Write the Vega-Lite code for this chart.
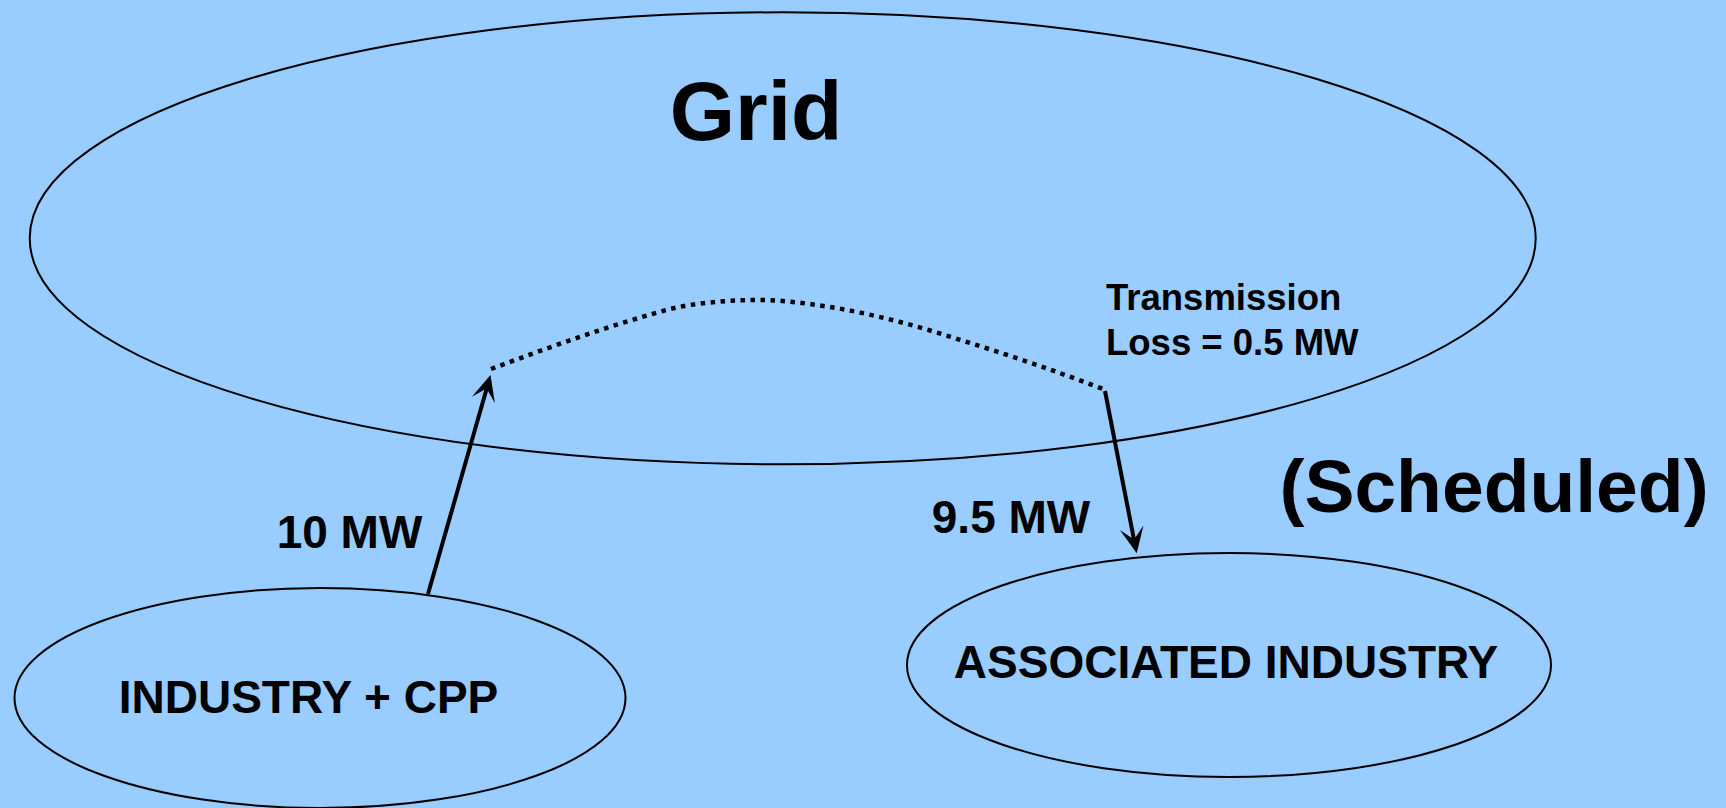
{
  "$schema": "https://vega.github.io/schema/vega-lite/v6.json",
  "width": 1726,
  "height": 808,
  "autosize": {"type": "none"},
  "padding": 0,
  "background": "#99CCFF",
  "config": {"view": {"stroke": null}},
  "datasets": {
    "ellipses": [
      {"name": "Grid", "x": 782.7, "y": 238.3},
      {"name": "INDUSTRY + CPP", "x": 320, "y": 698},
      {"name": "ASSOCIATED INDUSTRY", "x": 1229, "y": 665}
    ],
    "loss": [
      {"i": 0, "x": 491, "y": 369},
      {"i": 1, "x": 574, "y": 339},
      {"i": 2, "x": 632, "y": 320},
      {"i": 3, "x": 690, "y": 305},
      {"i": 4, "x": 758, "y": 300},
      {"i": 5, "x": 830, "y": 307},
      {"i": 6, "x": 900, "y": 322},
      {"i": 7, "x": 970, "y": 343},
      {"i": 8, "x": 1040, "y": 366},
      {"i": 9, "x": 1103, "y": 389}
    ],
    "arrows": [
      {"flow": "10 MW", "x": 428, "y": 594, "xe": 486.7, "ye": 388.5, "xt": 490.5, "yt": 375, "angle": 15.9},
      {"flow": "9.5 MW", "x": 1105, "y": 391, "xe": 1134, "ye": 539.6, "xt": 1136.7, "yt": 553.3, "angle": 168.9}
    ],
    "labels": [
      {"role": "big", "text": "Grid", "x": 756, "y": 140},
      {"role": "big2", "text": "(Scheduled)", "x": 1494, "y": 512},
      {"role": "mid", "text": "10 MW", "x": 349.5, "y": 548},
      {"role": "mid", "text": "9.5 MW", "x": 1011, "y": 532.5},
      {"role": "mid", "text": "INDUSTRY + CPP", "x": 308.5, "y": 713},
      {"role": "mid", "text": "ASSOCIATED INDUSTRY", "x": 1226, "y": 678},
      {"role": "small", "text": "Transmission", "x": 1106, "y": 310},
      {"role": "small", "text": "Loss = 0.5 MW", "x": 1106, "y": 355}
    ]
  },
  "layer": [
    {
      "data": {"name": "ellipses"},
      "mark": {"type": "point", "filled": false, "stroke": "black", "strokeWidth": 2, "size": 4, "opacity": 1},
      "encoding": {
        "x": {"field": "x", "type": "quantitative", "scale": {"domain": [0, 1726], "nice": false, "zero": false}, "axis": null},
        "y": {"field": "y", "type": "quantitative", "scale": {"domain": [0, 808], "nice": false, "zero": false, "reverse": true}, "axis": null},
        "shape": {
          "field": "name",
          "type": "nominal",
          "legend": null,
          "scale": {
            "domain": ["Grid", "INDUSTRY + CPP", "ASSOCIATED INDUSTRY"],
            "range": [
              "M -753 0 C -753 -124.8 -415.9 -226 0 -226 C 415.9 -226 753 -124.8 753 0 C 753 124.8 415.9 226 0 226 C -415.9 226 -753 124.8 -753 0 Z",
              "M -305.5 0 C -305.5 -60.8 -168.7 -110 0 -110 C 168.7 -110 305.5 -60.8 305.5 0 C 305.5 60.8 168.7 110 0 110 C -168.7 110 -305.5 60.8 -305.5 0 Z",
              "M -322 0 C -322 -61.9 -177.8 -112 0 -112 C 177.8 -112 322 -61.9 322 0 C 322 61.9 177.8 112 0 112 C -177.8 112 -322 61.9 -322 0 Z"
            ]
          }
        }
      }
    },
    {
      "data": {"name": "loss"},
      "mark": {"type": "line", "color": "black", "strokeWidth": 4.5, "strokeDash": [4.5, 5.5], "strokeCap": "butt", "interpolate": "monotone"},
      "encoding": {
        "x": {"field": "x", "type": "quantitative", "scale": {"domain": [0, 1726], "nice": false, "zero": false}, "axis": null},
        "y": {"field": "y", "type": "quantitative", "scale": {"domain": [0, 808], "nice": false, "zero": false, "reverse": true}, "axis": null},
        "order": {"field": "i", "type": "quantitative"}
      }
    },
    {
      "data": {"name": "arrows"},
      "mark": {"type": "rule", "color": "black", "strokeWidth": 4},
      "encoding": {
        "x": {"field": "x", "type": "quantitative", "scale": {"domain": [0, 1726], "nice": false, "zero": false}, "axis": null},
        "y": {"field": "y", "type": "quantitative", "scale": {"domain": [0, 808], "nice": false, "zero": false, "reverse": true}, "axis": null},
        "x2": {"field": "xe"},
        "y2": {"field": "ye"}
      }
    },
    {
      "data": {"name": "arrows"},
      "mark": {"type": "point", "filled": true, "color": "black", "opacity": 1, "size": 4, "shape": "M 0 0 L -12 26 L 0 14 L 12 26 Z"},
      "encoding": {
        "x": {"field": "xt", "type": "quantitative", "scale": {"domain": [0, 1726], "nice": false, "zero": false}, "axis": null},
        "y": {"field": "yt", "type": "quantitative", "scale": {"domain": [0, 808], "nice": false, "zero": false, "reverse": true}, "axis": null},
        "angle": {"field": "angle", "type": "quantitative", "scale": null}
      }
    },
    {
      "data": {"name": "labels"},
      "transform": [{"filter": "datum.role === 'big'"}],
      "mark": {"type": "text", "font": "Liberation Sans", "fontWeight": "bold", "fontSize": 84, "align": "center", "baseline": "alphabetic", "color": "black"},
      "encoding": {
        "x": {"field": "x", "type": "quantitative", "scale": {"domain": [0, 1726], "nice": false, "zero": false}, "axis": null},
        "y": {"field": "y", "type": "quantitative", "scale": {"domain": [0, 808], "nice": false, "zero": false, "reverse": true}, "axis": null},
        "text": {"field": "text"}
      }
    },
    {
      "data": {"name": "labels"},
      "transform": [{"filter": "datum.role === 'big2'"}],
      "mark": {"type": "text", "font": "Liberation Sans", "fontWeight": "bold", "fontSize": 75, "align": "center", "baseline": "alphabetic", "color": "black"},
      "encoding": {
        "x": {"field": "x", "type": "quantitative", "scale": {"domain": [0, 1726], "nice": false, "zero": false}, "axis": null},
        "y": {"field": "y", "type": "quantitative", "scale": {"domain": [0, 808], "nice": false, "zero": false, "reverse": true}, "axis": null},
        "text": {"field": "text"}
      }
    },
    {
      "data": {"name": "labels"},
      "transform": [{"filter": "datum.role === 'mid'"}],
      "mark": {"type": "text", "font": "Liberation Sans", "fontWeight": "bold", "fontSize": 46, "align": "center", "baseline": "alphabetic", "color": "black"},
      "encoding": {
        "x": {"field": "x", "type": "quantitative", "scale": {"domain": [0, 1726], "nice": false, "zero": false}, "axis": null},
        "y": {"field": "y", "type": "quantitative", "scale": {"domain": [0, 808], "nice": false, "zero": false, "reverse": true}, "axis": null},
        "text": {"field": "text"}
      }
    },
    {
      "data": {"name": "labels"},
      "transform": [{"filter": "datum.role === 'small'"}],
      "mark": {"type": "text", "font": "Liberation Sans", "fontWeight": "bold", "fontSize": 36.5, "align": "left", "baseline": "alphabetic", "color": "black"},
      "encoding": {
        "x": {"field": "x", "type": "quantitative", "scale": {"domain": [0, 1726], "nice": false, "zero": false}, "axis": null},
        "y": {"field": "y", "type": "quantitative", "scale": {"domain": [0, 808], "nice": false, "zero": false, "reverse": true}, "axis": null},
        "text": {"field": "text"}
      }
    }
  ]
}
